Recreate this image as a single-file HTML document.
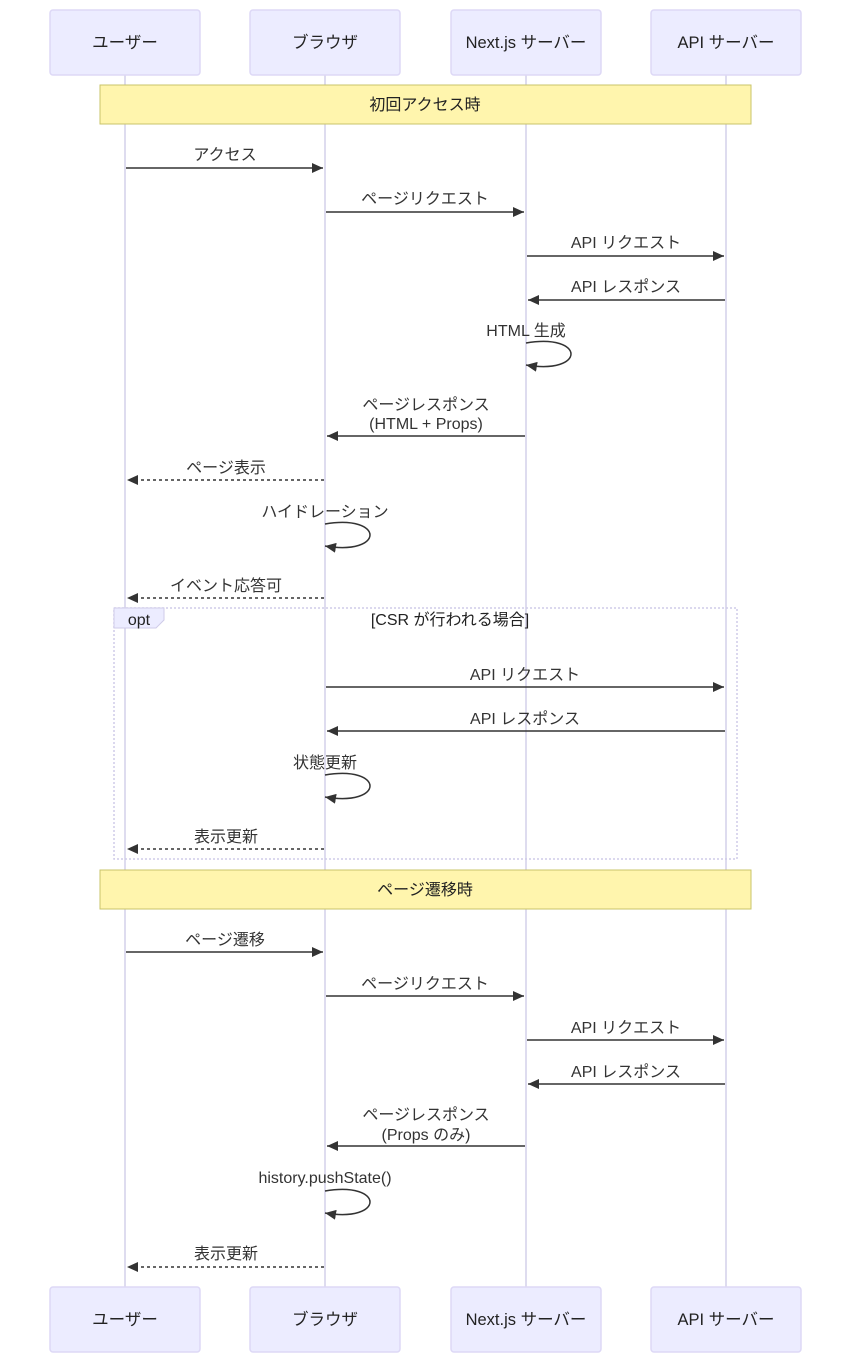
<!DOCTYPE html>
<html><head><meta charset="utf-8"><style>
html,body{margin:0;padding:0;background:#fff;}
svg{display:block;font-family:"Liberation Sans","Noto Sans CJK JP",sans-serif;}
</style></head><body>
<svg width="851" height="1363" viewBox="0 0 851 1363" xmlns="http://www.w3.org/2000/svg">
<defs>
<marker id="ah" markerWidth="12" markerHeight="12" refX="11" refY="5" orient="auto" markerUnits="userSpaceOnUse"><path d="M0,0 L11,5 L0,10 z" fill="#333"/></marker>
</defs>
<g stroke="#d4d0ea" stroke-width="1.5">
<line x1="125" y1="75" x2="125" y2="1287"/><line x1="325" y1="75" x2="325" y2="1287"/>
<line x1="526" y1="75" x2="526" y2="1287"/><line x1="726" y1="75" x2="726" y2="1287"/>
</g>
<g fill="#ececff" stroke="#ddd8f6" stroke-width="1.5">
<rect x="50" y="10" width="150" height="65" rx="3"/><rect x="250" y="10" width="150" height="65" rx="3"/>
<rect x="451" y="10" width="150" height="65" rx="3"/><rect x="651" y="10" width="150" height="65" rx="3"/>
<rect x="50" y="1287" width="150" height="65" rx="3"/><rect x="250" y="1287" width="150" height="65" rx="3"/>
<rect x="451" y="1287" width="150" height="65" rx="3"/><rect x="651" y="1287" width="150" height="65" rx="3"/>
</g>
<g font-size="16.5" fill="#222" text-anchor="middle">
<text x="125" y="48">ユーザー</text><text x="325" y="48">ブラウザ</text><text x="526" y="48">Next.js サーバー</text><text x="726" y="48">API サーバー</text>
<text x="125" y="1325">ユーザー</text><text x="325" y="1325">ブラウザ</text><text x="526" y="1325">Next.js サーバー</text><text x="726" y="1325">API サーバー</text>
</g>
<g fill="#fff5ad" stroke="#c9c46a" stroke-width="1">
<rect x="100" y="85" width="651" height="39"/><rect x="100" y="870" width="651" height="39"/>
</g>
<g font-size="16" fill="#222" text-anchor="middle">
<text x="425" y="110">初回アクセス時</text><text x="425" y="895">ページ遷移時</text>
</g>
<rect x="114" y="608" width="623" height="251" fill="none" stroke="#cfcbe8" stroke-width="1.5" stroke-dasharray="2,2"/>
<path d="M114 608 H164 V620 L156 628 H114 z" fill="#ececff" stroke="#cfcbe8"/>
<text x="139" y="625" font-size="16" fill="#222" text-anchor="middle">opt</text>
<text x="450" y="625" font-size="16" fill="#222" text-anchor="middle">[CSR が行われる場合]</text>
<g stroke="#333" stroke-width="1.5" fill="none" marker-end="url(#ah)">
<line x1="126" y1="168" x2="323" y2="168"/>
<line x1="326" y1="212" x2="524" y2="212"/>
<line x1="527" y1="256" x2="724" y2="256"/>
<line x1="725" y1="300" x2="528" y2="300"/>
<path d="M526 343 C586 333 586 375 526 365"/>
<line x1="525" y1="436" x2="327" y2="436"/>
<line x1="324" y1="480" x2="127" y2="480" stroke-dasharray="3,3"/>
<path d="M325 524 C385 514 385 556 325 546"/>
<line x1="324" y1="598" x2="127" y2="598" stroke-dasharray="3,3"/>
<line x1="326" y1="687" x2="724" y2="687"/>
<line x1="725" y1="731" x2="327" y2="731"/>
<path d="M325 775 C385 765 385 807 325 797"/>
<line x1="324" y1="849" x2="127" y2="849" stroke-dasharray="3,3"/>
<line x1="126" y1="952" x2="323" y2="952"/>
<line x1="326" y1="996" x2="524" y2="996"/>
<line x1="527" y1="1040" x2="724" y2="1040"/>
<line x1="725" y1="1084" x2="528" y2="1084"/>
<line x1="525" y1="1146" x2="327" y2="1146"/>
<path d="M325 1191 C385 1181 385 1223 325 1213"/>
<line x1="324" y1="1267" x2="127" y2="1267" stroke-dasharray="3,3"/>
</g>
<g font-size="16" fill="#333" text-anchor="middle">
<text x="225" y="160">アクセス</text>
<text x="425" y="204">ページリクエスト</text>
<text x="626" y="248">API リクエスト</text>
<text x="626" y="292">API レスポンス</text>
<text x="526" y="336">HTML 生成</text>
<text x="426" y="410">ページレスポンス</text>
<text x="426" y="429">(HTML + Props)</text>
<text x="226" y="473">ページ表示</text>
<text x="325" y="517">ハイドレーション</text>
<text x="226" y="591">イベント応答可</text>
<text x="525" y="680">API リクエスト</text>
<text x="525" y="724">API レスポンス</text>
<text x="325" y="768">状態更新</text>
<text x="226" y="842">表示更新</text>
<text x="225" y="945">ページ遷移</text>
<text x="425" y="989">ページリクエスト</text>
<text x="626" y="1033">API リクエスト</text>
<text x="626" y="1077">API レスポンス</text>
<text x="426" y="1120">ページレスポンス</text>
<text x="426" y="1140">(Props のみ)</text>
<text x="325" y="1183">history.pushState()</text>
<text x="226" y="1259">表示更新</text>
</g>
</svg>
</body></html>
